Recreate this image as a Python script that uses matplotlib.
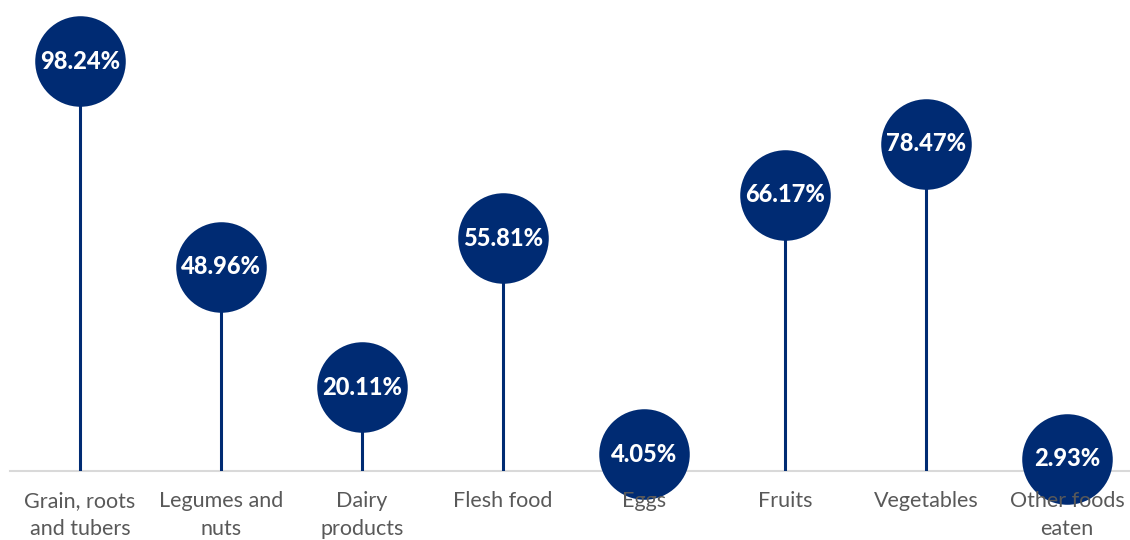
import matplotlib
matplotlib.use('Agg')
import matplotlib.pyplot as plt

categories = ['Grain, roots\nand tubers', 'Legumes and\nnuts', 'Dairy\nproducts', 'Flesh food',
              'Eggs', 'Fruits', 'Vegetables', 'Other foods\neaten']
values = [98.24, 48.96, 20.11, 55.81, 4.05, 66.17, 78.47, 2.93]

navy = '#002B73'
grey_text = '#595959'

fig = plt.figure(figsize=(11.3, 5.4), dpi=100)
ax = fig.add_axes([0, 69 / 540, 1, 471 / 540])
ax.set_xlim(-80 / 141, 7 + 63 / 141)
ax.set_ylim(0, 112.9)
ax.axis('off')

x = list(range(len(values)))

# baseline
ax.plot([-70 / 141, 7 + 63 / 141], [0, 0], color='#d9d9d9', lw=1.5, zorder=1, clip_on=False)

# stems and heads
ax.vlines(x, 0, values, color=navy, lw=2.2, zorder=2)
ax.scatter(x, values, s=4250, color=navy, zorder=3, clip_on=False, linewidths=0)

for xi, v in zip(x, values):
    ax.text(xi, v, '%.2f%%' % v, ha='center', va='center', color='white',
            fontsize=17, fontweight='black', family='Lato', zorder=4)

for xi, c in zip(x, categories):
    ax.text(xi, -4.7, c, ha='center', va='top', color=grey_text, fontsize=15.5,
            family='Lato', linespacing=1.5, zorder=5, clip_on=False)

fig.savefig('out.png', dpi=100)
